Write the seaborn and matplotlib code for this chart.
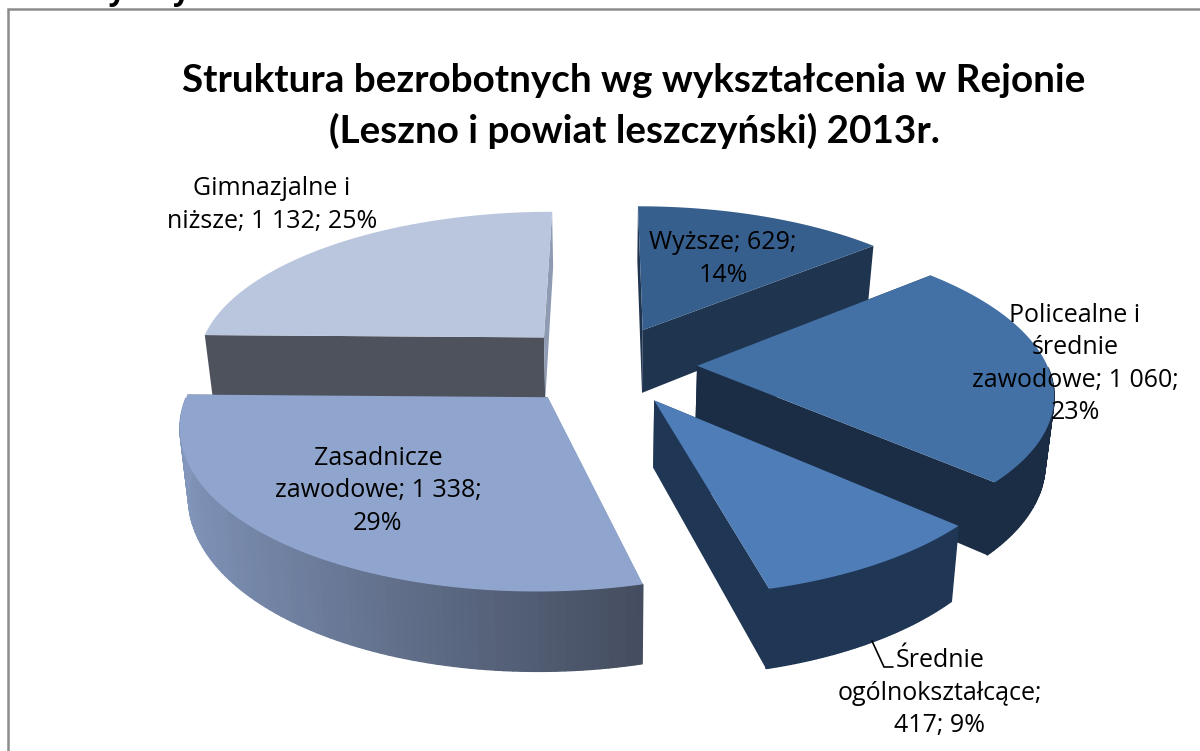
import numpy as np
import matplotlib
matplotlib.use("Agg")
import matplotlib.pyplot as plt
import seaborn as sns

categories = ["Wyższe", "Policealne i średnie zawodowe", "Średnie ogólnokształcące",
              "Zasadnicze zawodowe", "Gimnazjalne i niższe"]
values = [629, 1060, 417, 1338, 1132]
percents = [14, 23, 9, 29, 25]
label_templates = ["Wyższe; {v};\n{p}%",
                   "Policealne i\nśrednie\nzawodowe; {v};\n{p}%",
                   "Średnie\nogólnokształcące;\n{v}; {p}%",
                   "Zasadnicze\nzawodowe; {v};\n{p}%",
                   "Gimnazjalne i\nniższe; {v}; {p}%"]
title_text = "Struktura bezrobotnych wg wykształcenia w Rejonie\n(Leszno i powiat leszczyński) 2013r."

top_colors = ["#375f8e", "#4371a6", "#4e7db8", "#90a5ce", "#b9c6de"]
side_colors = ["#1f344f", "#1b2d45", "#1f3655", "#8397bd", "#4e525d"]
side_end_colors = ["#1f344f", "#1b2d45", "#1f3655", "#454e60", "#8f9bb3"]
label_xy = [(723, 259), (1075, 364), (940, 693), (378, 491), (272, 205)]

# back to front
draw_order = [0, 4, 1, 3, 2]

CX, CY, A, B, PERSP, DEPTH, EXPLODE = 606, 365, 350, 153, 0.155, 65, 0.26


def project(x, y, z=0.0):
    s = 1 / (1 - PERSP * y)
    return CX + A * x * s * (1 - 0.02 * z), CY + B * y * s + DEPTH * z * s


sns.set_theme(style="white")
plt.rcParams['font.family'] = ['Open Sans', 'DejaVu Sans']

fig = plt.figure(figsize=(12, 7.51), dpi=100)
ax = fig.add_axes([0, 0, 1, 1])
ax.set_xlim(0, 1200)
ax.set_ylim(751, 0)
ax.axis('off')

edges = np.deg2rad(np.cumsum([0] + values) / sum(values) * 360)

for i in draw_order:
    t0, t1 = edges[i], edges[i + 1]
    mid = (t0 + t1) / 2
    ox, oy = EXPLODE * np.sin(mid), -EXPLODE * np.cos(mid)
    t = np.linspace(t0, t1, 90)
    rx, ry = ox + np.sin(t), oy - np.cos(t)

    # radial side faces
    for k in (0, -1):
        sx = [ox, rx[k], rx[k], ox]
        sy = [oy, ry[k], ry[k], oy]
        sz = [0, 0, 1, 1]
        px, py = zip(*[project(a, b, c) for a, b, c in zip(sx, sy, sz)])
        ax.fill(px, py, color=side_colors[i] if k == 0 else side_end_colors[i], lw=0)

    # rim, only the part that faces the viewer, shaded left to right
    front = np.where(np.cos(t) < 0.0)[0]
    if len(front) > 1:
        pal = sns.blend_palette([side_colors[i], side_end_colors[i]], 200)
        x_low, x_high = rx[front].min(), rx[front].max()
        for j in front[:-1]:
            frac = (rx[j] - x_low) / (x_high - x_low)
            xa, ya = project(rx[j:j + 2], ry[j:j + 2], 0)
            xb, yb = project(rx[j:j + 2], ry[j:j + 2], 1)
            ax.fill(np.r_[xa, xb[::-1]], np.r_[ya, yb[::-1]], color=pal[int(frac * 199)], lw=1.0)

    # top surface
    tx, ty = project(np.r_[ox, rx], np.r_[oy, ry], 0)
    ax.fill(tx, ty, color=top_colors[i], lw=0)

for i, tpl in enumerate(label_templates):
    v = f"{values[i]:,}".replace(",", " ")
    ax.text(label_xy[i][0], label_xy[i][1], tpl.format(v=v, p=percents[i]), ha='center', va='center',
            fontsize=18, color='black', linespacing=1.37, zorder=10)

ax.plot([872, 884, 893], [641, 667, 667], color='black', lw=1.2, zorder=9)

ax.text(634, 106, title_text, ha='center', va='center', fontsize=27.8, fontweight='bold',
        family=['Lato', 'DejaVu Sans'], color='black', linespacing=1.5, zorder=10)

# cut off line of the page above the chart
ax.text(37, 0, "oceny a rynki 2013", fontsize=21.6, fontweight='bold', color='black', va='baseline')

ax.plot([7.5, 7.5, 1200], [751, 9, 9], color='#8c8c8c', lw=1.8, solid_joinstyle='miter')

fig.savefig("out.png", dpi=100)
